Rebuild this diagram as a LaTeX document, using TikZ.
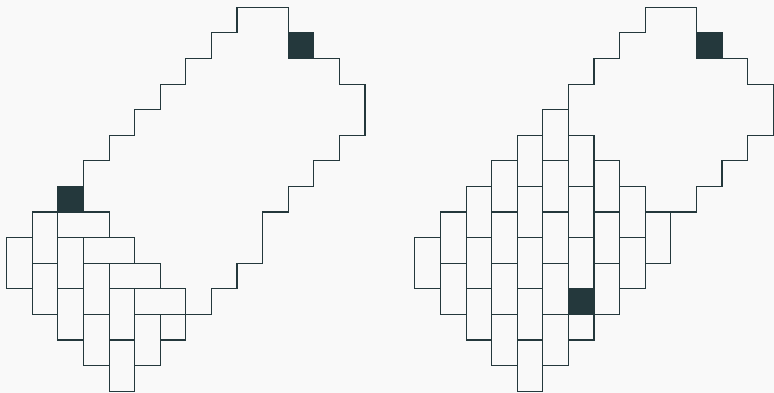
\documentclass[tikz,border=0pt]{standalone}
\usepackage{tikz}

\definecolor{slate}{HTML}{24383C}
\definecolor{paper}{HTML}{F9F9F9}

\begin{document}
\begin{tikzpicture}[x=0.5cm, y=-0.5cm, line width=0.6pt,
	cell/.style={draw=slate},
	marked/.style={draw=slate, fill=slate}]

	\fill[paper] (-0.262,-0.285) rectangle (29.984,15.072);
	\useasboundingbox (-0.262,-0.285) rectangle (29.984,15.072);

	% the same region, twice
	\foreach \dx in {0,15.95}{
		\begin{scope}[shift={(\dx,0)}]
			\draw[cell] (9,0) -- (11,0) -- (11,1) -- (12,1) -- (12,2) -- (13,2) -- (13,3) -- (14,3)
				-- (14,5) -- (13,5) -- (13,6) -- (12,6) -- (12,7) -- (11,7) -- (11,8) -- (10,8)
				-- (10,10) -- (9,10) -- (9,11) -- (8,11) -- (8,12) -- (7,12) -- (7,13) -- (6,13)
				-- (6,14) -- (5,14) -- (5,15) -- (4,15) -- (4,14) -- (3,14) -- (3,13) -- (2,13)
				-- (2,12) -- (1,12) -- (1,11) -- (0,11) -- (0,9) -- (1,9) -- (1,8) -- (2,8)
				-- (2,7) -- (3,7) -- (3,6) -- (4,6) -- (4,5) -- (5,5) -- (5,4) -- (6,4)
				-- (6,3) -- (7,3) -- (7,2) -- (8,2) -- (8,1) -- (9,1) -- cycle;
			\filldraw[marked] (11,1) rectangle (12,2);
		\end{scope}
	}

	% left: partial tiling
	\foreach \a/\b/\c/\d in {1/8/2/10, 2/8/4/9, 0/9/1/11, 1/10/2/12, 2/9/3/11, 3/9/5/10,
		2/11/3/13, 3/10/4/12, 4/10/6/11, 3/12/4/14, 4/11/5/13, 5/11/7/12,
		4/13/5/15, 5/12/6/14, 6/12/7/13}
		\draw[cell] (\a,\b) rectangle (\c,\d);
	\filldraw[marked] (2,7) rectangle (3,8);

	% right: columns of vertical dominoes
	\begin{scope}[shift={(15.95,0)}]
		\foreach \col/\rows in {0/{9}, 1/{8,10}, 2/{7,9,11}, 3/{6,8,10,12}, 4/{5,7,9,11,13},
			5/{4,6,8,10,12}, 6/{5,7,9}, 7/{6,8,10}, 8/{7,9}, 9/{8}}
			\foreach \row in \rows
				\draw[cell] (\col,\row) rectangle ++(1,2);
		\draw[cell] (6,12) rectangle (7,13);
		\filldraw[marked] (6,11) rectangle (7,12);
	\end{scope}

\end{tikzpicture}
\end{document}
